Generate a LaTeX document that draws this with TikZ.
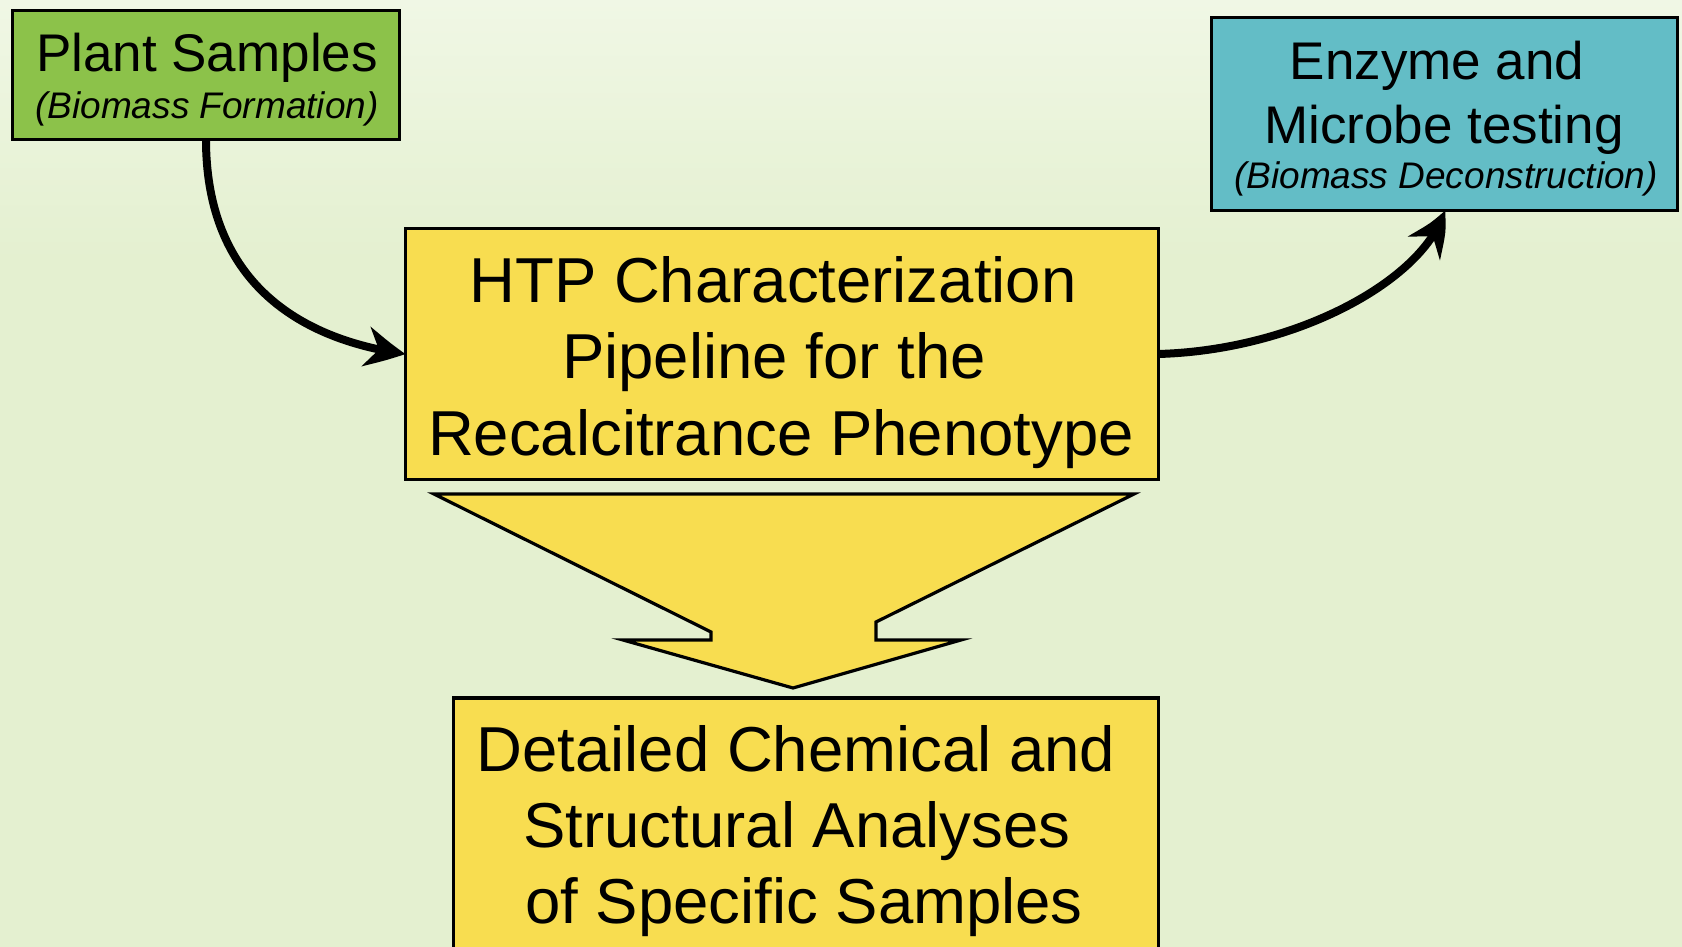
\documentclass[tikz,border=0pt]{standalone}
\usepackage{fontspec}
\setmainfont{Liberation Sans}
\usetikzlibrary{arrows.meta,bending}

\definecolor{bgtop}{RGB}{240,247,229}
\definecolor{bgmain}{RGB}{228,240,208}
\definecolor{leafgreen}{RGB}{140,194,74}
\definecolor{tealbox}{RGB}{99,189,198}
\definecolor{sunyellow}{RGB}{248,221,80}

\tikzset{
  box/.style={draw=black, line width=3.2pt, inner sep=0pt, outer sep=0pt},
  titletxt/.style={anchor=base, inner sep=0pt, font=\fontsize{53}{60}\selectfont},
  subtxt/.style={anchor=base, inner sep=0pt, font=\fontsize{37}{42}\selectfont\itshape},
  bigtxt/.style={anchor=base, inner sep=0pt, font=\fontsize{63.5}{76}\selectfont},
  conn/.style={line width=8pt, -{Stealth[length=40pt,width=40pt,inset=13pt,bend]}},
  flowarrow/.style={draw=black, fill=sunyellow, line width=3.2pt, line join=miter},
}

\begin{document}
\begin{tikzpicture}[x=1pt,y=-1pt]
  % page frame and background
  \clip (0,0) rectangle (1682,947);
  \fill[bgmain] (0,0) rectangle (1682,947);
  \shade[top color=bgtop, bottom color=bgmain] (0,0) rectangle (1682,260);

  % boxes
  \node[box, fill=leafgreen, minimum width=387pt, minimum height=129pt] (plant) at (206,75) {};
  \node[box, fill=tealbox, minimum width=466pt, minimum height=193pt] (enzyme) at (1444.5,114) {};
  \node[box, fill=sunyellow, minimum width=753pt, minimum height=251pt] (htp) at (782,354) {};
  \node[box, fill=sunyellow, minimum width=705pt, minimum height=300pt] (detail) at (806,848) {};

  % broad downward arrow between the two yellow boxes
  \filldraw[flowarrow] (434,494) -- (1134,494) -- (876,622) -- (876,640) -- (961,640)
    -- (793,688) -- (623,640) -- (711,640) -- (711,632) -- cycle;

  % texts
  \node[titletxt] (plantA) at (207,72) {Plant Samples};
  \node[subtxt] (plantB) at (207,119) {(Biomass Formation)};

  \node[titletxt] (enzA) at (1437,80) {Enzyme and};
  \node[titletxt] (enzB) at (1444,144) {Microbe testing};
  \node[subtxt] (enzC) at (1446,189) {(Biomass Deconstruction)};

  \node[bigtxt] (htpA) at (773,302) {HTP Characterization};
  \node[bigtxt] (htpB) at (774,378) {Pipeline for the};
  \node[bigtxt] (htpC) at (781,455) {Recalcitrance Phenotype};

  \node[bigtxt] (detA) at (796,771) {Detailed Chemical and};
  \node[bigtxt] (detB) at (797,847) {Structural Analyses};
  \node[bigtxt] (detC) at (804,923) {of Specific Samples};

  % curved connectors
  \draw[conn] (plant.south) .. controls +(0,144) and +(-104,-14) .. (htp.west);
  \draw[conn] (htp.east) .. controls +(140,-4) and +(-19,68) .. (enzyme.south);
\end{tikzpicture}
\end{document}
